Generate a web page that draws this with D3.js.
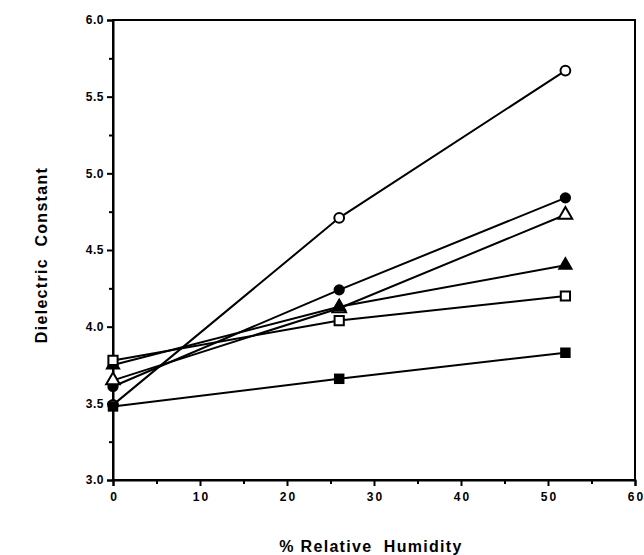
<!DOCTYPE html>
<html>
<head>
<meta charset="utf-8">
<script src="https://cdn.jsdelivr.net/npm/d3@7"></script>
<style>
  body { margin: 0; background: #fff; }
  text { font-family: "Liberation Sans", Arial, sans-serif; font-weight: bold; fill: #000; }
</style>
</head>
<body>
<svg></svg>
<script>
// humidity levels (x) and dielectric constant for each sample (y)
const humidity = [0, 26, 52];
const openCircle   = [3.49, 4.71, 5.67];
const filledCircle = [3.61, 4.24, 4.84];
const openTri      = [3.65, 4.12, 4.73];
const filledTri    = [3.75, 4.13, 4.40];
const openSquare   = [3.78, 4.04, 4.20];
const filledSquare = [3.48, 3.66, 3.83];

const xTicks = [0, 10, 20, 30, 40, 50, 60];
const yTicks = [3.0, 3.5, 4.0, 4.5, 5.0, 5.5, 6.0];

const series = [
  {vals: openCircle,   shape: d3.symbolCircle,   filled: false},
  {vals: filledCircle, shape: d3.symbolCircle,   filled: true},
  {vals: openTri,      shape: d3.symbolTriangle, filled: false},
  {vals: filledTri,    shape: d3.symbolTriangle, filled: true},
  {vals: openSquare,   shape: d3.symbolSquare,   filled: false},
  {vals: filledSquare, shape: d3.symbolSquare,   filled: true}
];

const svg = d3.select('svg')
    .attr('width', 644)
    .attr('height', 555);

const x = d3.scaleLinear().domain([0, 60]).range([113, 635]);
const y = d3.scaleLinear().domain([3, 6]).range([480, 20]);

// frame
svg.append('rect')
    .attr('x', x(0)).attr('y', y(6))
    .attr('width', x(60) - x(0)).attr('height', y(3) - y(6))
    .attr('fill', 'none').attr('stroke', '#000').attr('stroke-width', 2);

// x axis
svg.append('g')
    .attr('class', 'xaxis')
    .attr('transform', `translate(0,${y(3)})`)
    .call(d3.axisBottom(x).tickValues(xTicks).tickFormat(d3.format('d')).tickSize(6).tickPadding(6));
svg.append('g')
    .attr('transform', `translate(0,${y(3)})`)
    .call(d3.axisBottom(x).tickValues([5, 15, 25, 35, 45, 55]).tickFormat('').tickSize(4))
    .select('.domain').remove();

// y axis
svg.append('g')
    .attr('class', 'yaxis')
    .attr('transform', `translate(${x(0)},0)`)
    .call(d3.axisLeft(y).tickValues(yTicks).tickFormat(d3.format('.1f')).tickSize(6).tickPadding(3));
svg.append('g')
    .attr('transform', `translate(${x(0)},0)`)
    .call(d3.axisLeft(y).tickValues([3.25, 3.75, 4.25, 4.75, 5.25, 5.75]).tickFormat('').tickSize(4))
    .select('.domain').remove();

svg.selectAll('.domain').attr('stroke-width', 2);
svg.selectAll('.tick line').attr('stroke-width', 2);
svg.selectAll('.tick text')
    .attr('font-family', '"Liberation Sans", Arial, sans-serif')
    .attr('font-weight', 'bold')
    .attr('font-size', 12);
svg.selectAll('.xaxis .tick text').style('letter-spacing', '2px').attr('dx', 1);
svg.selectAll('.yaxis .tick text').style('letter-spacing', '0.5px');

// axis titles
svg.append('text')
    .text('% Relative  Humidity')
    .attr('x', 371).attr('y', 552)
    .attr('text-anchor', 'middle')
    .attr('font-size', 16)
    .style('letter-spacing', '1.3px')
    .style('white-space', 'pre');

svg.append('text')
    .text('Dielectric  Constant')
    .attr('transform', 'translate(47,255) rotate(-90)')
    .attr('text-anchor', 'middle')
    .attr('font-size', 16)
    .style('letter-spacing', '1.3px')
    .style('white-space', 'pre');

// lines
const line = d3.line()
    .x((d, i) => x(humidity[i]))
    .y(d => y(d));

svg.append('g').selectAll('path')
    .data(series)
    .join('path')
    .attr('d', d => line(d.vals))
    .attr('fill', 'none')
    .attr('stroke', '#000')
    .attr('stroke-width', 2);

// markers
const sizeOf = s => s === d3.symbolCircle ? 75 : s === d3.symbolTriangle ? 80 : 85;
series.forEach(s => {
  svg.append('g').selectAll('path')
      .data(s.vals)
      .join('path')
      .attr('transform', (d, i) => `translate(${x(humidity[i])},${y(d)})`)
      .attr('d', d3.symbol().type(s.shape).size(s.filled ? sizeOf(s.shape) + 25 : sizeOf(s.shape)))
      .attr('fill', s.filled ? '#000' : '#fff')
      .attr('stroke', '#000')
      .attr('stroke-width', s.filled ? 0 : 2);
});
</script>
</body>
</html>
